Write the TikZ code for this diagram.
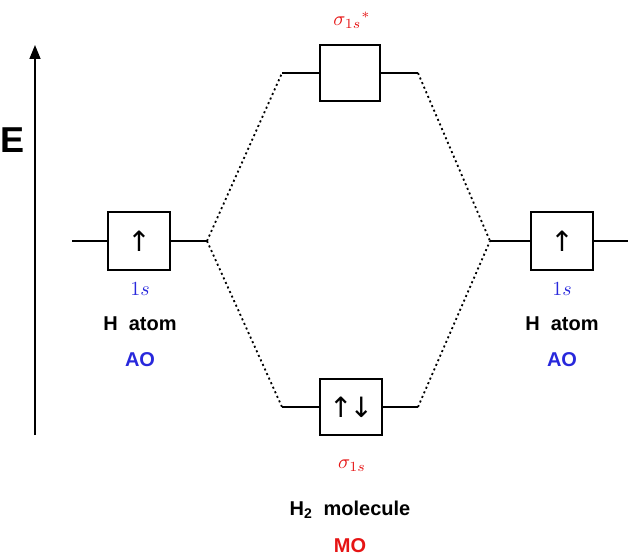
\documentclass[tikz,border=0pt]{standalone}
\usepackage{fontspec}
\setmainfont{Liberation Sans}
\newfontfamily\spinfont{DejaVu Sans}
\usetikzlibrary{arrows.meta}
\definecolor{aoblue}{RGB}{40,40,220}
\definecolor{mored}{RGB}{230,20,20}
\tikzstyle{orb}=[rectangle, draw=black, line width=1.3pt, minimum width=62pt, minimum height=58pt, inner sep=0pt]
\tikzstyle{level}=[-, draw=black, line width=1.3pt]
\tikzstyle{corr}=[-, draw=black, line width=1.8pt, dash pattern=on 2pt off 3pt]
\tikzstyle{lbl}=[font=\fontsize{20}{23}\selectfont\bfseries]
\tikzstyle{sym}=[font=\normalsize, scale=2]
\tikzstyle{spin}=[font=\spinfont\fontsize{28}{30}\selectfont]
\begin{document}
\begin{tikzpicture}[x=1pt,y=-1pt]
            \useasboundingbox (0,0) rectangle (632,559);
            % energy axis
            \coordinate (E0) at (35,435);
            \coordinate (E1) at (35,45);
            \draw [line width=1.5pt, -{Triangle[length=14pt,width=11pt]}] (E0) to (E1);
            \node [font=\fontsize{36}{40}\selectfont\bfseries] (E) at (13,140) {E};

            % atomic orbitals
            \node [style=orb, spin] (L) at (139,241) {↑};
            \node [style=orb, spin] (R) at (562,241) {↑};
            \coordinate (La) at (72,241);
            \coordinate (Lb) at (207,241);
            \coordinate (Ra) at (490,241);
            \coordinate (Rb) at (628,241);
            \draw [style=level] (La) to (L.west);
            \draw [style=level] (L.east) to (Lb);
            \draw [style=level] (Ra) to (R.west);
            \draw [style=level] (R.east) to (Rb);

            % molecular orbitals
            \node [style=orb, minimum width=60pt, minimum height=56pt] (S1) at (350,73) {};
            \node [style=orb, spin, minimum width=62pt, minimum height=56pt] (S0) at (351,407) {↑\kern-3pt↓};
            \coordinate (S1a) at (282,73);
            \coordinate (S1b) at (418,73);
            \coordinate (S0a) at (282,407);
            \coordinate (S0b) at (418,407);
            \draw [style=level] (S1a) to (S1.west);
            \draw [style=level] (S1.east) to (S1b);
            \draw [style=level] (S0a) to (S0.west);
            \draw [style=level] (S0.east) to (S0b);

            % correlation lines
            \draw [style=corr] (Lb) to (S1a);
            \draw [style=corr] (Lb) to (S0a);
            \draw [style=corr] (S1b) to (Ra);
            \draw [style=corr] (S0b) to (Ra);

            % labels
            \node [style=sym, text=aoblue] (L1s) at (140,289) {$1s$};
            \node [style=sym, text=aoblue] (R1s) at (562,289) {$1s$};
            \node [style=lbl] (Lat) at (140,324) {H\ \ atom};
            \node [style=lbl] (Rat) at (562,324) {H\ \ atom};
            \node [style=lbl, text=aoblue] (Lao) at (140,360) {AO};
            \node [style=lbl, text=aoblue] (Rao) at (562,360) {AO};
            \node [style=sym, text=mored] (S1l) at (352,20) {$\sigma_{1s}{}^{*}$};
            \node [style=sym, text=mored] (S0l) at (352,466) {$\sigma_{1s}$};
            \node [style=lbl] (mol) at (350,510) {H\textsubscript{2}\ \ molecule};
            \node [style=lbl, text=mored] (mo) at (350,546) {MO};
        \end{tikzpicture}
\end{document}
